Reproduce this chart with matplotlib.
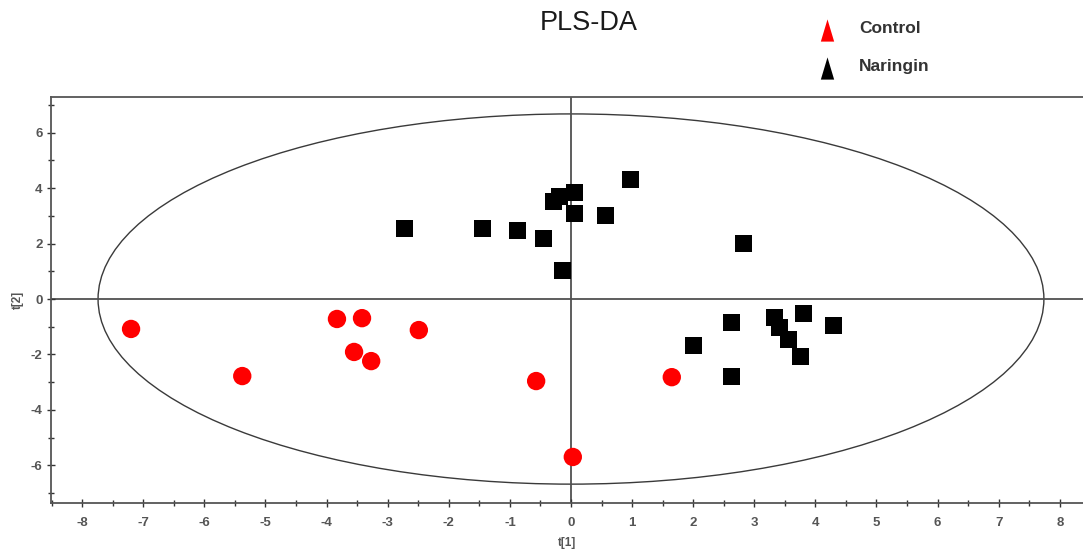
import matplotlib
matplotlib.use("Agg")
import matplotlib.pyplot as plt
from matplotlib.patches import Ellipse
from matplotlib.lines import Line2D
from matplotlib.path import Path
from matplotlib.ticker import MultipleLocator

plt.rcParams['font.family'] = ['Liberation Sans', 'DejaVu Sans']
plt.rcParams['axes.unicode_minus'] = False

# PLS-DA scores (t[1], t[2])
control_t1 = [-7.20, -5.38, -3.83, -3.42, -3.55, -3.27, -2.49, -0.57, 1.65, 0.03]
control_t2 = [-1.08, -2.78, -0.72, -0.69, -1.91, -2.24, -1.12, -2.96, -2.82, -5.70]

naringin_t1 = [-2.72, -1.44, -0.88, -0.45, -0.14, -0.28, -0.18, 0.05, 0.05, 0.57,
               0.98, 2.83, 2.00, 2.63, 2.63, 3.33, 3.42, 3.56, 3.75, 3.80, 4.29]
naringin_t2 = [2.53, 2.53, 2.48, 2.17, 1.02, 3.51, 3.70, 3.84, 3.09, 3.01,
               4.30, 1.99, -1.66, -0.84, -2.78, -0.67, -1.02, -1.46, -2.06, -0.52, -0.94]

# Hotelling's T2 (95%) ellipse semi-axes
t2_a = 7.74
t2_b = 6.68

group_labels = ["Control", "Naringin"]
group_colors = ["#ff0000", "#000000"]

x_major = list(range(-8, 9))
y_major = [-6, -4, -2, 0, 2, 4, 6]

fig = plt.figure(figsize=(10.83, 5.5), dpi=100)
ax = fig.add_axes([0.0471, 0.0855, 0.9529, 0.7381])

ax.set_xlim(-8.51, 8.38)
ax.set_ylim(-7.36, 7.29)

ax.add_patch(Ellipse((0, 0), 2 * t2_a, 2 * t2_b, fill=False,
                     edgecolor="#3a3a3a", lw=1.0, zorder=1))
ax.axhline(0, color="#505050", lw=1.3, zorder=1)
ax.axvline(0, color="#505050", lw=1.3, zorder=1)

ax.scatter(naringin_t1, naringin_t2, marker="s", s=150, c=group_colors[1],
           edgecolors="none", zorder=3)
ax.scatter(control_t1, control_t2, marker="o", s=175, c=group_colors[0],
           edgecolors="none", zorder=3)

ax.set_xticks(x_major)
ax.set_yticks(y_major)
ax.xaxis.set_minor_locator(MultipleLocator(0.5))
ax.yaxis.set_minor_locator(MultipleLocator(1))
ax.tick_params(which="both", direction="inout", color="#333333", width=1.0)
ax.tick_params(which="major", length=6)
ax.tick_params(which="minor", length=5)
ax.tick_params(axis="x", which="major", pad=7)
ax.tick_params(axis="y", which="major", pad=3)
ax.tick_params(labelsize=9.5, labelcolor="#555555")
for lab in ax.get_xticklabels() + ax.get_yticklabels():
    lab.set_fontweight("bold")

for side in ("left", "bottom", "top"):
    ax.spines[side].set_color("#555555")
    ax.spines[side].set_linewidth(1.3)
ax.spines["right"].set_visible(False)

ax.set_xlabel("t[1]", fontsize=8.5, color="#555555", fontweight="bold", labelpad=6)
ax.set_ylabel("t[2]", fontsize=8.5, color="#555555", fontweight="bold", labelpad=5)

fig.text(0.544, 0.958, "PLS-DA", fontsize=19.5, color="#1a1a1a",
         ha="center", va="center")

# narrow triangle glyph for the group key
tri = Path([(-0.3, -0.5), (0.3, -0.5), (0.0, 0.5), (-0.3, -0.5)],
           [Path.MOVETO, Path.LINETO, Path.LINETO, Path.CLOSEPOLY])
key_y = [1 - 30 / 550, 1 - 68 / 550]
for lbl, col, ky in zip(group_labels, group_colors, key_y):
    fig.add_artist(Line2D([827 / 1083], [ky], marker=tri, markersize=16,
                          color=col, markeredgecolor="none", linestyle="none",
                          transform=fig.transFigure))
    fig.text(859 / 1083, ky + 0.003, lbl, fontsize=12.5, fontweight="bold",
             color="#333333", ha="left", va="center")

fig.savefig("out.png", dpi=100)
